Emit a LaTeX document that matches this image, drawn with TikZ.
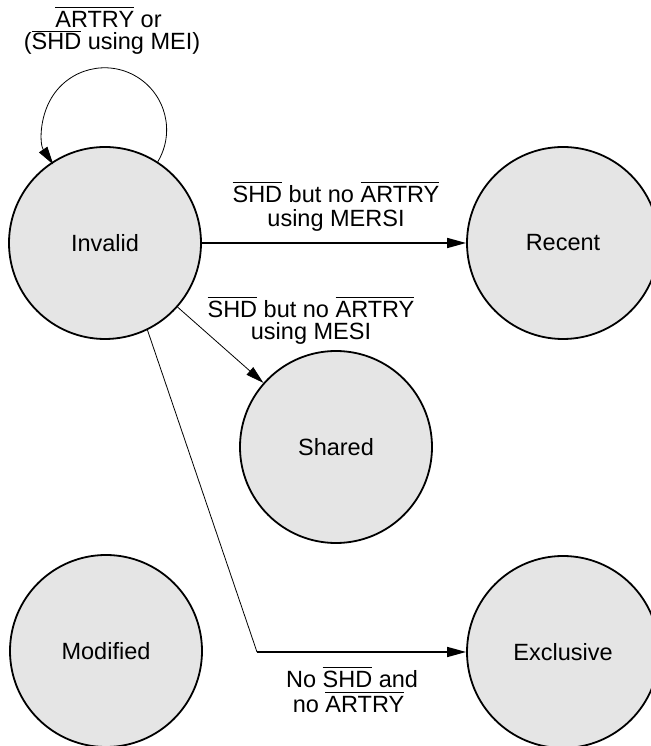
\documentclass[tikz,border=0pt]{standalone}
\usepackage{fontspec}
\setmainfont{Liberation Sans}
\usetikzlibrary{arrows.meta}
\newsavebox\ovlbox
\newcommand\ovl[2][20.5pt]{\sbox\ovlbox{#2}\rlap{\rule[#1]{\wd\ovlbox}{0.9pt}}\usebox\ovlbox}
\definecolor{stfill}{RGB}{229,229,229}
\begin{document}
\begin{tikzpicture}[x=1pt,y=1pt,
  state/.style={circle, draw=black, line width=1.8pt, fill=stfill, minimum size=192pt, inner sep=0pt, font=\fontsize{23.5}{25}\selectfont},
  lbl/.style={anchor=base, inner sep=0pt, font=\fontsize{23.5}{25}\selectfont},
  thickarrow/.style={line width=1.6pt, -{Triangle[length=19pt,width=10pt]}},
  thinarrow/.style={line width=0.8pt, -{Triangle[length=18pt,width=10pt]}},
  thinline/.style={line width=0.8pt},
]
\useasboundingbox (0,0) rectangle (650,746);
\node[state] (Invalid)   at (105,503) {Invalid};
\node[state] (Recent)    at (563,503) {Recent};
\node[state] (Shared)    at (336,299) {Shared};
\node[state] (Modified)  at (106,95)  {Modified};
\node[state] (Exclusive) at (563,94)  {Exclusive};
\coordinate (corner) at (257,94);

% self loop
\draw[thinarrow] (Invalid.57) arc[start angle=-31, end angle=214, radius=62];
\node[lbl] (la1) at (108.5,718) {\ovl{ARTRY} or};
\node[lbl] (la2) at (112,696.5) {(\ovl[17.5pt]{SHD} using MEI)};

% Invalid -> Recent
\draw[thickarrow] (Invalid.east) -- (Recent.west);
\node[lbl] (lb1) at (336,543) {\ovl{SHD} but no \ovl{ARTRY}};
\node[lbl] (lb2) at (336,519) {using MERSI};

% Invalid -> Shared
\draw[thinarrow] (Invalid) -- (Shared);
\node[lbl] (lc1) at (311,428) {\ovl{SHD} but no \ovl{ARTRY}};
\node[lbl] (lc2) at (311,406) {using MESI};

% Invalid -> Exclusive
\draw[thinline] (Invalid.-64) -- (corner);
\draw[thickarrow] (corner) -- (Exclusive.west);
\node[lbl] (ld1) at (352,58) {No \ovl{SHD} and};
\node[lbl] (ld2) at (348.5,33) {no \ovl{ARTRY}};
\end{tikzpicture}
\end{document}
